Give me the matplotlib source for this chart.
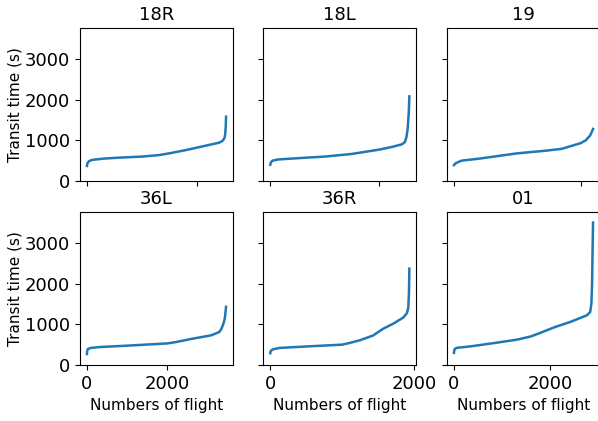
import matplotlib
matplotlib.use('Agg')
import matplotlib.pyplot as plt

names = ['18R', '18L', '19', '36L', '36R', '01']

# sorted transit times per runway (flight index, seconds)
x_18R = [0, 10, 40, 100, 300, 600, 1000, 1300, 1500, 1800, 2000, 2200, 2400, 2460, 2500, 2515, 2525, 2530]
y_18R = [370, 440, 490, 520, 550, 575, 600, 635, 680, 760, 820, 880, 940, 980, 1050, 1150, 1350, 1580]

x_18L = [0, 10, 40, 150, 500, 1000, 1500, 2000, 2250, 2420, 2480, 2510, 2530, 2550, 2560]
y_18L = [400, 450, 500, 530, 560, 600, 665, 770, 840, 900, 960, 1100, 1300, 1700, 2080]

x_19 = [0, 30, 120, 400, 1000, 1450, 1700, 1850, 2000, 2080, 2150, 2195]
y_19 = [390, 440, 500, 550, 680, 745, 790, 860, 930, 1000, 1120, 1280]

x_36L = [0, 5, 20, 100, 300, 1000, 2000, 2200, 2600, 3100, 3300, 3350, 3400, 3440, 3470]
y_36L = [270, 330, 390, 420, 440, 475, 530, 560, 640, 730, 810, 880, 1000, 1150, 1430]

x_36R = [0, 5, 30, 130, 500, 1000, 1100, 1250, 1430, 1570, 1710, 1850, 1900, 1920, 1930, 1935]
y_36R = [290, 340, 380, 420, 455, 500, 540, 610, 725, 890, 1015, 1165, 1270, 1400, 1800, 2370]

x_01 = [0, 10, 50, 360, 840, 1300, 1600, 1800, 1950, 2100, 2430, 2770, 2840, 2865, 2880, 2890, 2900]
y_01 = [300, 380, 420, 460, 540, 620, 700, 790, 860, 930, 1060, 1220, 1300, 1500, 2000, 2800, 3500]

xs = [x_18R, x_18L, x_19, x_36L, x_36R, x_01]
ys = [y_18R, y_18L, y_19, y_36L, y_36R, y_01]

fig, axes = plt.subplots(2, 3, sharey=True, figsize=(5.98, 4.21), dpi=100)

lefts = [80 / 598, 263.3 / 598, 447 / 598]
bottoms = [1 - 181 / 421, 1 - 365 / 421]
w = 153 / 598
h = 153 / 421

for i, ax in enumerate(axes.flat):
    r, c = divmod(i, 3)
    ax.set_position([lefts[c], bottoms[r], w, h])
    ax.plot(xs[i], ys[i], color='tab:blue', lw=1.8)
    ax.set_title(names[i], fontsize=13)
    ax.tick_params(labelsize=13)
    if r == 0:
        ax.tick_params(labelbottom=False)
    else:
        ax.set_xlabel('Numbers of flight', fontsize=11)
    if c == 0:
        ax.set_ylabel('Transit time (s)', fontsize=11, labelpad=2)

axes[0, 0].set_ylim(0, 3760)
axes[0, 0].set_yticks([0, 1000, 2000, 3000])

fig.savefig('out.png', dpi=100)
